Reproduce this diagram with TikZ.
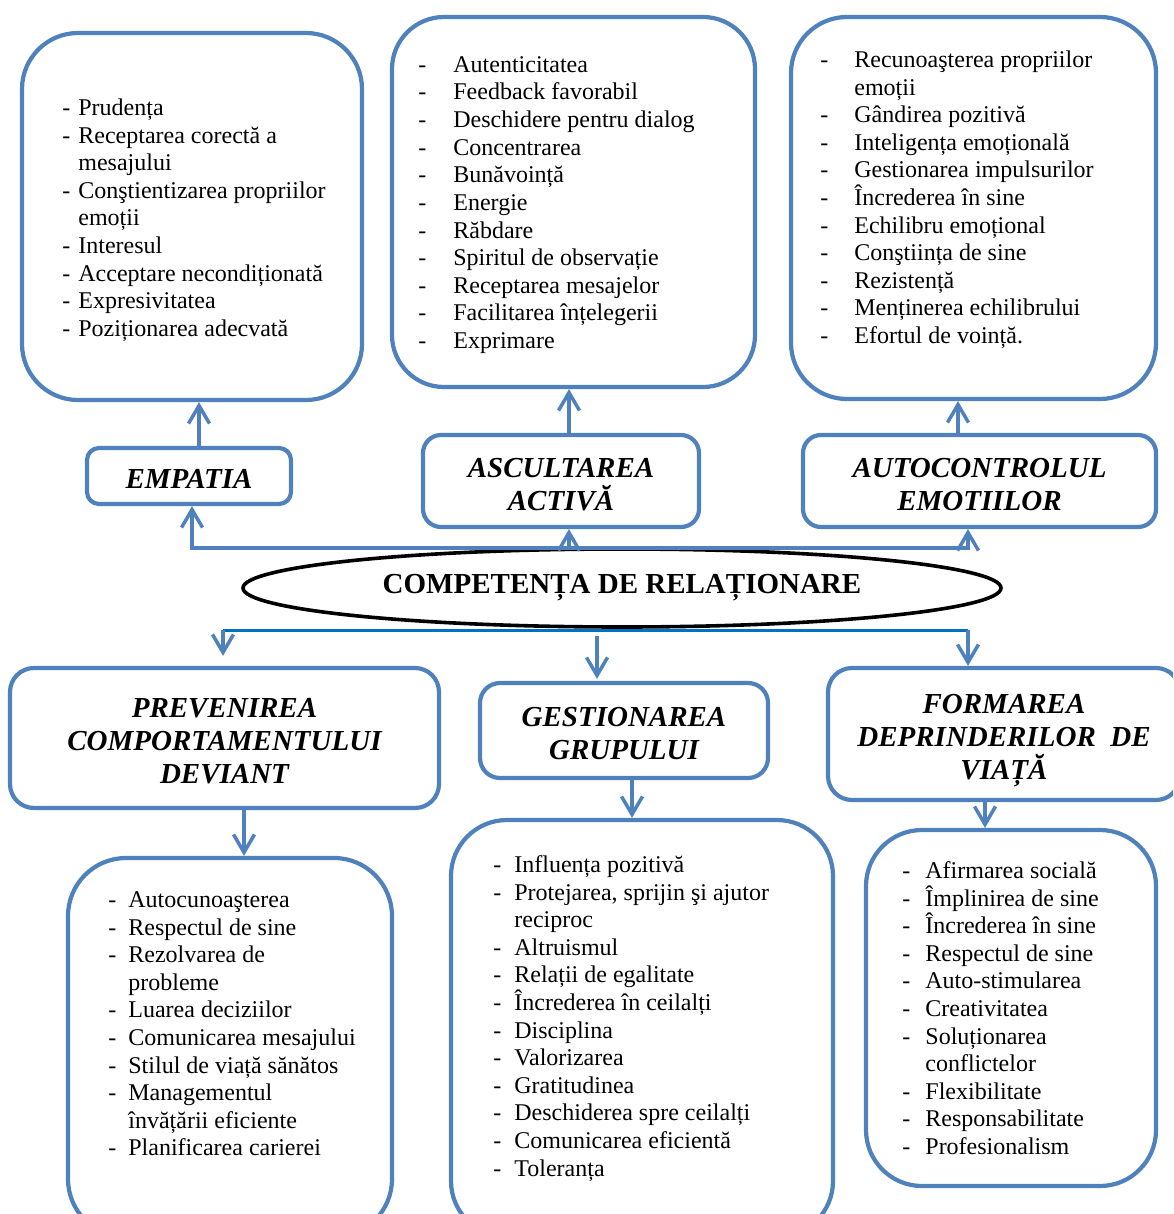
\documentclass[tikz,border=0pt]{standalone}
\usepackage{fontspec}
\setmainfont{Liberation Serif}
\usetikzlibrary{arrows.meta,shapes.geometric}
\definecolor{boxblue}{HTML}{4F81BD}
\definecolor{lineblue}{HTML}{0070C0}
\newcommand\dashitem[2]{\makebox[#1][l]{-}#2}
\newcommand\contline[2]{\hspace*{#1}#2}
\newcommand\headtop{\rule{0pt}{16.6pt}}
\newcommand\headbot{\rule[-4pt]{0pt}{4pt}}
\begin{document}
\begin{tikzpicture}[x=0.5pt,y=-0.5pt,
 listbox/.style={draw=boxblue, line width=2.1pt, rounded corners=28pt, inner sep=0pt},
 headbox/.style={draw=boxblue, line width=2.1pt, inner sep=0pt, align=center,
   font=\fontsize{14.5}{16.5}\selectfont\bfseries\itshape},
 listtext/.style={anchor=north west, inner sep=0pt, align=left,
   font=\fontsize{12}{13.8}\selectfont},
 arr/.style={draw=boxblue, line width=1.75pt, -{Straight Barb[length=9pt,width=10.5pt]}},
 arrtwo/.style={draw=boxblue, line width=1.75pt, line join=miter,
   {Straight Barb[length=9pt,width=10.5pt]}-{Straight Barb[length=9pt,width=10.5pt]}},
 lowline/.style={draw=lineblue, line width=1.5pt},
]
\useasboundingbox (0,0) rectangle (1173,1214);
\clip (0,0) rectangle (1173,1214);

% top list boxes
\node[listbox, minimum width=170pt, minimum height=183.5pt] (L1) at (192,216.5) {};
\node[listbox, minimum width=181.5pt, minimum height=185pt, rounded corners=26pt] (L2) at (573.5,202) {};
\node[listbox, minimum width=182.5pt, minimum height=191pt] (L3) at (973.5,208) {};

\node[listtext] (T1) at (62,95) {\rule{0pt}{10pt}\dashitem{8pt}{Prudența}\\
\dashitem{8pt}{Receptarea corectă a}\\
\contline{8pt}{mesajului}\\
\dashitem{8pt}{Conştientizarea propriilor}\\
\contline{8pt}{emoții}\\
\dashitem{8pt}{Interesul}\\
\dashitem{8pt}{Acceptare necondiționată}\\
\dashitem{8pt}{Expresivitatea}\\
\dashitem{8pt}{Poziționarea adecvată}};

\node[listtext] (T2) at (418,52) {\rule{0pt}{10pt}\dashitem{17.5pt}{Autenticitatea}\\
\dashitem{17.5pt}{Feedback favorabil}\\
\dashitem{17.5pt}{Deschidere pentru dialog}\\
\dashitem{17.5pt}{Concentrarea}\\
\dashitem{17.5pt}{Bunăvoință}\\
\dashitem{17.5pt}{Energie}\\
\dashitem{17.5pt}{Răbdare}\\
\dashitem{17.5pt}{Spiritul de observație}\\
\dashitem{17.5pt}{Receptarea mesajelor}\\
\dashitem{17.5pt}{Facilitarea înțelegerii}\\
\dashitem{17.5pt}{Exprimare}};

\node[listtext] (T3) at (820,47) {\rule{0pt}{10pt}\dashitem{17pt}{Recunoaşterea propriilor}\\
\contline{17pt}{emoții}\\
\dashitem{17pt}{Gândirea pozitivă}\\
\dashitem{17pt}{Inteligența emoțională}\\
\dashitem{17pt}{Gestionarea impulsurilor}\\
\dashitem{17pt}{Încrederea în sine}\\
\dashitem{17pt}{Echilibru emoțional}\\
\dashitem{17pt}{Conştiința de sine}\\
\dashitem{17pt}{Rezistență}\\
\dashitem{17pt}{Menținerea echilibrului}\\
\dashitem{17pt}{Efortul de voință.}};

% upper headings
\node[headbox, minimum width=102pt, minimum height=28pt, rounded corners=6pt] (H1) at (189,476) {\headtop EMPATIA\headbot};
\node[headbox, minimum width=138pt, minimum height=46pt, rounded corners=9pt] (H2) at (561,481) {\headtop ASCULTAREA\\ACTIVĂ\headbot};
\node[headbox, minimum width=176.5pt, minimum height=46pt, rounded corners=9pt] (H3) at (979.5,481) {\headtop AUTOCONTROLUL\\EMOTIILOR\headbot};

% central ellipse
\node[ellipse, draw=black, line width=1.8pt, minimum width=379pt, minimum height=39pt, inner sep=0pt,
  font=\fontsize{14.5}{16.5}\selectfont\bfseries] (E) at (622,588) {COMPETENȚA DE RELAȚIONARE};

% lower headings
\node[headbox, minimum width=214.5pt, minimum height=70pt, rounded corners=12pt] (H4) at (224.5,738) {\headtop PREVENIREA\\COMPORTAMENTULUI\\DEVIANT\headbot};
\node[headbox, minimum width=144pt, minimum height=47.5pt, rounded corners=10pt] (H5) at (624,730.5) {\headtop GESTIONAREA\\GRUPULUI\headbot};
\node[headbox, minimum width=176pt, minimum height=66pt, rounded corners=12pt] (H6) at (1004,734) {\headtop FORMAREA\\DEPRINDERILOR\ \ DE\\VIAȚĂ\headbot};

% lower list boxes
\node[listbox, minimum width=162pt, minimum height=189.5pt, rounded corners=29pt] (L4) at (230,1047.5) {};
\node[listbox, minimum width=191pt, minimum height=208.5pt] (L5) at (642,1028.5) {};
\node[listbox, minimum width=145pt, minimum height=178pt] (L6) at (1011,1008) {};

\node[listtext] (T4) at (108,887) {\rule{0pt}{10pt}\dashitem{10pt}{Autocunoaşterea}\\
\dashitem{10pt}{Respectul de sine}\\
\dashitem{10pt}{Rezolvarea de}\\
\contline{10pt}{probleme}\\
\dashitem{10pt}{Luarea deciziilor}\\
\dashitem{10pt}{Comunicarea mesajului}\\
\dashitem{10pt}{Stilul de viață sănătos}\\
\dashitem{10pt}{Managementul}\\
\contline{10pt}{învățării eficiente}\\
\dashitem{10pt}{Planificarea carierei}};

\node[listtext] (T5) at (493,852) {\rule{0pt}{10pt}\dashitem{10.5pt}{Influența pozitivă}\\
\dashitem{10.5pt}{Protejarea, sprijin şi ajutor}\\
\contline{10.5pt}{reciproc}\\
\dashitem{10.5pt}{Altruismul}\\
\dashitem{10.5pt}{Relații de egalitate}\\
\dashitem{10.5pt}{Încrederea în ceilalți}\\
\dashitem{10.5pt}{Disciplina}\\
\dashitem{10.5pt}{Valorizarea}\\
\dashitem{10.5pt}{Gratitudinea}\\
\dashitem{10.5pt}{Deschiderea spre ceilalți}\\
\dashitem{10.5pt}{Comunicarea eficientă}\\
\dashitem{10.5pt}{Toleranța}};

\node[listtext] (T6) at (902,858) {\rule{0pt}{10pt}\dashitem{11.5pt}{Afirmarea socială}\\
\dashitem{11.5pt}{Împlinirea de sine}\\
\dashitem{11.5pt}{Încrederea în sine}\\
\dashitem{11.5pt}{Respectul de sine}\\
\dashitem{11.5pt}{Auto-stimularea}\\
\dashitem{11.5pt}{Creativitatea}\\
\dashitem{11.5pt}{Soluționarea}\\
\contline{11.5pt}{conflictelor}\\
\dashitem{11.5pt}{Flexibilitate}\\
\dashitem{11.5pt}{Responsabilitate}\\
\dashitem{11.5pt}{Profesionalism}};

% connector coordinates
\coordinate (a1) at (192,548);
\coordinate (a2) at (569,548);
\coordinate (a3) at (968,548);
\coordinate (b1) at (199,0);
\coordinate (b2) at (569,0);
\coordinate (b3) at (958,0);
\coordinate (c1) at (223,630);
\coordinate (c2) at (597,636);
\coordinate (c3) at (968,630);
\coordinate (d1) at (244,0);
\coordinate (d2) at (632,0);
\coordinate (d3) at (985,0);

% upper connectors
\draw[arrtwo] (H1.south -| a1) -- (a1) -- (a3) -- (H3.south -| a3);
\draw[arr] (a2) -- (H2.south -| a2);
\draw[arr] (H1.north -| b1) -- (L1.south -| b1);
\draw[arr] (H2.north -| b2) -- (L2.south -| b2);
\draw[arr] (H3.north -| b3) -- (L3.south -| b3);

% lower connectors
\draw[lowline] (c1) -- (c3);
\draw[arr, shorten >=5pt] (c1) -- (H4.north -| c1);
\draw[arr, shorten >=1pt] (c2) -- (H5.north -| c2);
\draw[arr] (c3) -- (H6.north -| c3);
\draw[arr] (H4.south -| d1) -- (L4.north -| d1);
\draw[arr] (H5.south -| d2) -- (L5.north -| d2);
\draw[arr] (H6.south -| d3) -- (L6.north -| d3);
\end{tikzpicture}
\end{document}
